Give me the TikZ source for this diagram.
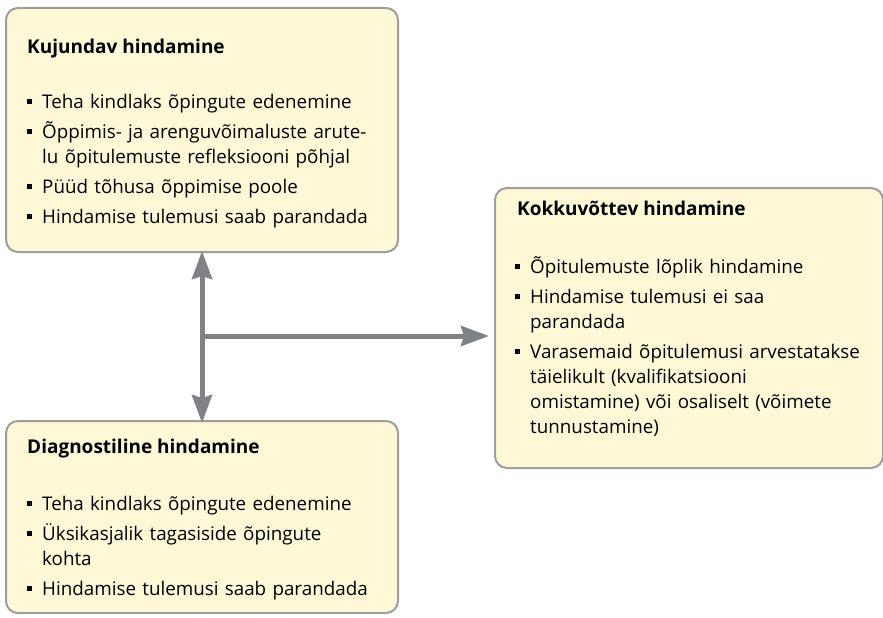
\documentclass[tikz,border=0pt]{standalone}
\usepackage{fontspec}
\setmainfont{Open Sans}
\usetikzlibrary{positioning, arrows.meta}
\definecolor{boxfill}{HTML}{FEF8D6}
\definecolor{boxline}{HTML}{9E9E9E}
\definecolor{arrowgray}{HTML}{808285}
\newcommand{\bitem}[1]{\par\hangindent=15pt\hangafter=1\noindent\makebox[15pt][l]{\rule[0.22em]{5pt}{5pt}}#1\par\vspace{5pt}}

\begin{document}
\begin{tikzpicture}[
        x=1pt, y=-1pt,
        every node/.style={font=\fontsize{18.8}{25}\selectfont},
        panel/.style={draw=boxline, line width=2pt, fill=boxfill, rounded corners=12pt, anchor=north west, inner sep=0pt},
        heading/.style={font=\fontsize{19}{25}\selectfont\bfseries, anchor=base west, inner sep=0pt},
        items/.style={anchor=north west, inner sep=0pt, text width=370pt, align=left},
        arrow/.style={line width=5pt, arrowgray, >={Stealth[length=28pt, width=20pt, inset=3pt]}}
    ]
    \useasboundingbox (0,0) rectangle (883,618);

    % Boxes
    \node[panel, minimum width=392pt, minimum height=244pt] (form) at (5,7) {};
    \node[panel, minimum width=388pt, minimum height=280pt] (summ) at (494,187) {};
    \node[panel, minimum width=392pt, minimum height=192pt] (diag) at (5,420) {};

    % Headings
    \node[heading] (formtitle) at ([shift={(22,46)}]form.north west) {Kujundav hindamine};
    \node[heading] (summtitle) at ([shift={(23,28)}]summ.north west) {Kokkuvõttev hindamine};
    \node[heading] (diagtitle) at ([shift={(22,33)}]diag.north west) {Diagnostiline hindamine};

    % Lists
    \node[items] (formlist) at ([shift={(22,76)}]form.north west) {%
        \bitem{Teha kindlaks õpingute edenemine}
        \bitem{Õppimis- ja arenguvõimaluste arute-\newline lu õpitulemuste refleksiooni põhjal}
        \bitem{Püüd tõhusa õppimise poole}
        \bitem{Hindamise tulemusi saab parandada}};
    \node[items] (summlist) at ([shift={(21,61)}]summ.north west) {%
        \bitem{Õpitulemuste lõplik hindamine}
        \bitem{Hindamise tulemusi ei saa\newline parandada}
        \bitem{Varasemaid õpitulemusi arvestatakse\newline täielikult (kvalifikatsiooni\newline omistamine) või osaliselt (võimete\newline tunnustamine)}};
    \node[items] (diaglist) at ([shift={(22,65)}]diag.north west) {%
        \bitem{Teha kindlaks õpingute edenemine}
        \bitem{Üksikasjalik tagasiside õpingute\newline kohta}
        \bitem{Hindamise tulemusi saab parandada}};

    % Arrows
    \coordinate (hub) at (form.south |- 0,336);
    \draw [arrow, <->] ([yshift=2pt]form.south) -- ([yshift=-3pt]diag.north);
    \draw [arrow, ->] (hub) -- ([xshift=-5pt]summ.west |- hub);

\end{tikzpicture}
\end{document}
